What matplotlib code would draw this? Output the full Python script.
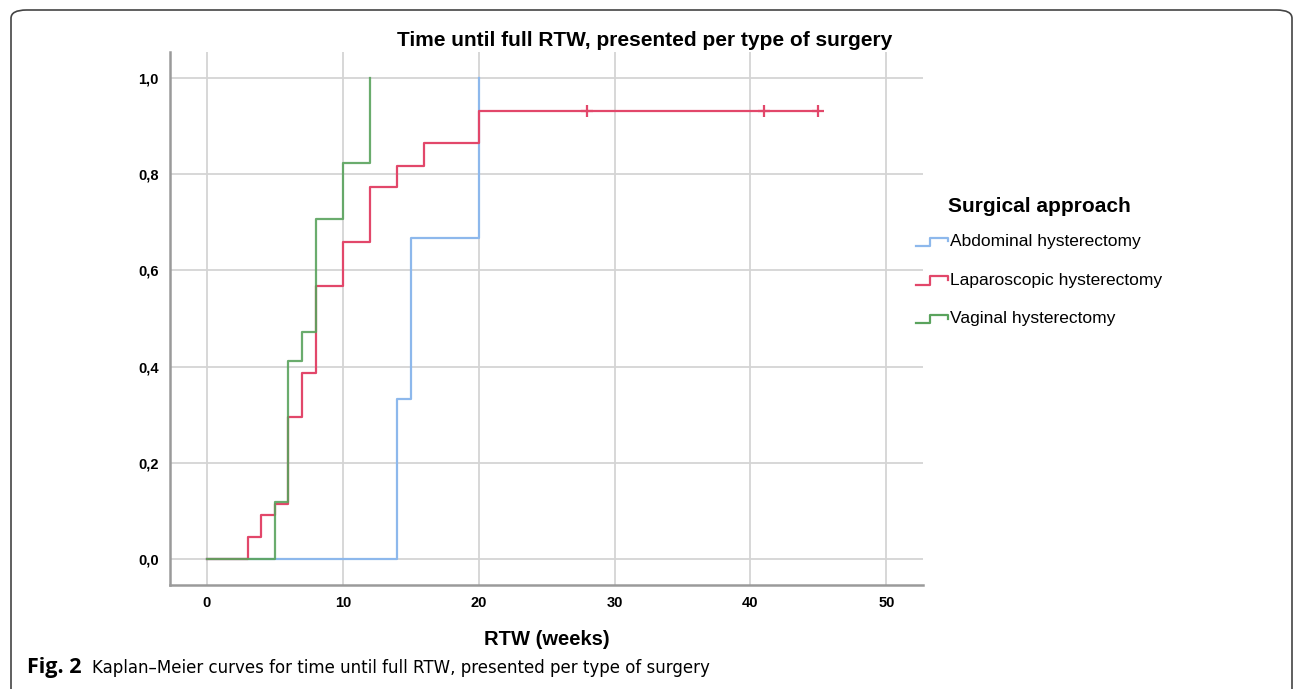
import numpy as np
import matplotlib
matplotlib.use("Agg")
import matplotlib.pyplot as plt
from matplotlib.lines import Line2D
from matplotlib.legend_handler import HandlerBase
from matplotlib.patches import FancyBboxPatch

# cumulative proportion returned to work (1 - KM), per surgical approach
abd_t = [0, 14, 15, 20]
abd_p = [0.0, 0.333, 0.667, 1.0]

lap_t = [0, 3, 4, 5, 6, 7, 8, 10, 12, 14, 16, 20, 45]
lap_p = [0.0, 0.045, 0.091, 0.114, 0.295, 0.386, 0.568, 0.659, 0.773, 0.818, 0.864, 0.932, 0.932]
lap_cens_t = [28, 41, 45]
lap_cens_p = [0.932, 0.932, 0.932]

vag_t = [0, 5, 6, 7, 8, 10, 12]
vag_p = [0.0, 0.118, 0.412, 0.471, 0.706, 0.824, 1.0]

labels = ["Abdominal hysterectomy", "Laparoscopic hysterectomy", "Vaginal hysterectomy"]
colors = ["#8db8ec", "#e2476a", "#5aa35d"]

xticks = [0, 10, 20, 30, 40, 50]
yticks = [0.0, 0.2, 0.4, 0.6, 0.8, 1.0]

plt.rcParams['font.family'] = ['Liberation Sans', 'DejaVu Sans']

W, H = 1295, 689
fig = plt.figure(figsize=(W / 100, H / 100), dpi=100)
ax = fig.add_axes([170 / W, 1 - 585 / H, (923 - 170) / W, (585 - 52) / H])

ax.step(abd_t, abd_p, where="post", color=colors[0], lw=1.6)
ax.step(lap_t, lap_p, where="post", color=colors[1], lw=1.6)
ax.plot(lap_cens_t, lap_cens_p, "+", color=colors[1], ms=8, mew=1.6)
ax.step(vag_t, vag_p, where="post", color=colors[2], lw=1.6, alpha=0.9)

ax.set_xlim(-2.72, 52.7)
ax.set_ylim(-0.054, 1.054)
ax.set_xticks(xticks)
ax.set_yticks(yticks)
ax.set_yticklabels([f"{v:.1f}".replace(".", ",") for v in yticks])
ax.grid(True, color="#d4d4d4", lw=1.3)
ax.set_axisbelow(True)
for s in ["top", "right"]:
    ax.spines[s].set_visible(False)
for s in ["left", "bottom"]:
    ax.spines[s].set_color("#9a9a9a")
    ax.spines[s].set_linewidth(1.8)
ax.tick_params(length=0, labelsize=10.5, pad=8)
for lab in ax.get_xticklabels() + ax.get_yticklabels():
    lab.set_fontweight("bold")

ax.set_xlabel("RTW (weeks)", fontsize=14.5, fontweight="bold", labelpad=14)
fig.text(645 / W, 1 - 41 / H, "Time until full RTW, presented per type of surgery",
         ha="center", va="center", fontsize=15, fontweight="bold")


class StepHandler(HandlerBase):
    def create_artists(self, legend, orig_handle, xdescent, ydescent,
                       width, height, fontsize, trans):
        xs = np.array([0, 0.45, 0.45, 1.0, 1.0]) * width - xdescent
        ys = np.array([0.0, 0.0, 0.7, 0.7, 0.4]) * height - ydescent
        ln = Line2D(xs, ys, color=orig_handle.get_color(), lw=1.6, transform=trans)
        return [ln]


handles = [Line2D([], [], color=c) for c in colors]
leg = fig.legend(handles, labels, loc="upper left",
                 bbox_to_anchor=(916 / W, 1 - 197 / H), frameon=False,
                 title="Surgical approach", fontsize=12.5,
                 title_fontproperties={"size": 15, "weight": "bold"},
                 handler_map={Line2D: StepHandler()},
                 handlelength=1.85, handletextpad=0.1, labelspacing=1.35,
                 borderpad=0, borderaxespad=0)
leg._legend_box.sep = 13

# page frame and caption
fig.patches.append(FancyBboxPatch((11 / W, -0.05), (1292 - 11) / W, 1.05 - 10 / H,
                                  boxstyle="round,pad=0,rounding_size=0.012",
                                  transform=fig.transFigure, fill=False,
                                  ec="#444444", lw=1.2))
cap = fig.text(27 / W, 1 - 673 / H, "Fig. 2", fontsize=15.5, fontweight="bold",
               family=["Open Sans", "DejaVu Sans"], va="baseline")
fig.canvas.draw()
x_after = cap.get_window_extent().x1
fig.text(x_after / W + 11 / W, 1 - 673 / H,
         "Kaplan–Meier curves for time until full RTW, presented per type of surgery",
         fontsize=12, family=["Liberation Sans Narrow", "DejaVu Sans"], va="baseline")

fig.savefig("out.png", dpi=100)
